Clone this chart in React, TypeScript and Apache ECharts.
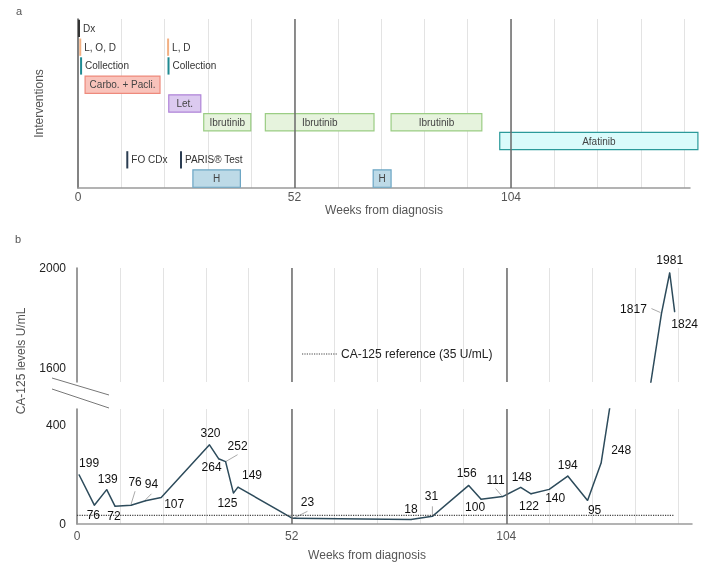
import React, { useEffect, useRef } from 'react';
import * as echarts from 'echarts';

const FONT = '"Liberation Sans", Arial, Helvetica, sans-serif';

// ---------- Panel a: interventions ----------
const rowCount = 9;
const intervalLabels = ['Carbo. + Pacli.', 'Let.', 'Ibrutinib', 'Ibrutinib', 'Ibrutinib', 'Afatinib', 'H', 'H'];
const intervalStarts = [1.7, 21.8, 30.2, 45, 75.2, 101.3, 27.6, 70.9];
const intervalEnds = [19.7, 29.5, 41.5, 71.1, 97, 148.9, 39, 75.2];
const intervalRows = [3, 4, 5, 5, 5, 6, 8, 8];
const intervalKinds = ['chemo', 'let', 'ibr', 'ibr', 'ibr', 'afa', 'h', 'h'];

const markerLabels = ['Dx', 'L, O, D', 'Collection', 'L, D', 'Collection', 'FO CDx', 'PARIS® Test'];
const markerWeeks = [0, 0.3, 0.5, 21.4, 21.5, 11.6, 24.5];
const markerRows = [0, 1, 2, 1, 2, 7, 7];
const markerKinds = ['dx', 'lod', 'coll', 'lod', 'coll', 'test', 'test'];

// ---------- Panel b: CA-125 ----------
const ca125Weeks = [0.5, 4.2, 7.2, 9.2, 13.1, 16.6, 20.4, 32.1, 34.3, 36, 37.9, 39, 52.2, 80.9, 86.1, 94.9, 97.9, 103.1, 107.5, 110, 114.4, 118.9, 123.7, 127, 141.6, 143.6, 144.8];
const ca125Values = [199, 76, 139, 72, 76, 94, 107, 320, 264, 252, 125, 149, 23, 18, 31, 156, 100, 111, 148, 122, 140, 194, 95, 248, 1817, 1981, 1824];
const referenceValue = 35;
const referenceWeeks = [0, 144.5];
const referenceLabel = 'CA-125 reference (35 U/mL)';
const weekTickLabels = [0, 52, 104];
const yTickLabelsLower = [0, 400];
const yTickLabelsUpper = [1600, 2000];
const milestoneWeeks = [52, 104];

// ---------- styles ----------
const boxStyles: Record<string, { fill: string; stroke: string }> = {
  chemo: { fill: '#f9c3bb', stroke: '#ee8a7c' },
  let: { fill: '#dccaf0', stroke: '#b084d8' },
  ibr: { fill: '#e6f3dd', stroke: '#9bcd84' },
  afa: { fill: '#dafbfb', stroke: '#2b9a9a' },
  h: { fill: '#bddae7', stroke: '#6aa5c4' },
};
const markerColors: Record<string, string> = { dx: '#333333', lod: '#f2b083', coll: '#1f8a92', test: '#2b3d52' };
const labelOffsets: number[][] = [
  [10, -12], [-1, 10], [1, -11], [-1, 10], [4, -23], [6, -17], [13, 6], [1, -12], [-7, 8], [12, -16],
  [-6, 10], [14, -12], [15, -16], [0, -11], [-1, -20], [-2, -12], [-6, 8], [-7, -17], [1, -10], [-2, 12],
  [6, 9], [0, -11], [7, 9], [20, -13], [-28, -5], [0, -13], [10, 12],
];
const leaderSpecs = [
  { i: 4, a: [0, -1], b: [4, -14] },
  { i: 5, a: [0, -1], b: [6, -7] },
  { i: 9, a: [0, 0], b: [12, -7] },
  { i: 12, a: [1, 0], b: [15, -7] },
  { i: 14, a: [0, -1], b: [0, -10] },
  { i: 17, a: [-1, -1], b: [-7, -8] },
  { i: 24, a: [-1, -1], b: [-10, -5] },
];
const LINE_COLOR = '#2d4b5b';
const UPPER_MIN = 1542;
const UPPER_MAX = 2000;
const LOWER_MAX = 465;

const near = (v: number, list: number[]) => list.some((t) => Math.abs(t - v) < 0.01);

function weekAxis(gridIndex: number, max: number, showLabels: boolean, extra: any = {}) {
  return {
    type: 'value',
    gridIndex,
    min: 0,
    max,
    interval: 10.4,
    axisTick: { show: false },
    axisLine: { show: showLabels, lineStyle: { color: '#9a9a9a', width: 1.5 } },
    axisLabel: {
      show: showLabels,
      color: '#555',
      fontFamily: FONT,
      fontSize: 12,
      formatter: (v: number) => (near(v, weekTickLabels) ? String(Math.round(v)) : ''),
    },
    splitLine: { show: true, showMinLine: false, showMaxLine: false, lineStyle: { color: '#e3e3e3', width: 1 } },
    ...extra,
  };
}

const milestoneMarkLine = {
  silent: true,
  symbol: ['none', 'none'],
  label: { show: false },
  lineStyle: { color: '#6a6a6a', width: 1.5, type: 'solid' },
  data: milestoneWeeks.map((w) => ({ xAxis: w })),
};

function buildOption(): any {
  const intervalData = intervalStarts.map((s, i) => [s, intervalEnds[i], intervalRows[i], i]);
  const markerData = markerWeeks.map((w, i) => [w, markerRows[i], i]);
  const pts = ca125Weeks.map((w, i) => [w, ca125Values[i]]);

  const seriesData = (inRange: (v: number) => boolean) =>
    pts.map((p, i) => ({
      value: p,
      label: {
        show: inRange(p[1]),
        position: 'inside',
        offset: labelOffsets[i],
        color: '#111',
        fontFamily: FONT,
        fontSize: 12,
        formatter: String(ca125Values[i]),
      },
    }));

  return {
    animation: false,
    grid: [
      { left: 78, right: 18, top: 19, bottom: 386 },
      { left: 77, right: 16, top: 268, bottom: 192 },
      { left: 77, right: 16, top: 409, bottom: 50 },
    ],
    xAxis: [
      weekAxis(0, 147, true, {
        name: 'Weeks from diagnosis',
        nameLocation: 'middle',
        nameGap: 12,
        nameTextStyle: { color: '#555', fontFamily: FONT, fontSize: 12 },
        axisLabel: {
          color: '#555', fontFamily: FONT, fontSize: 12, margin: 3,
          formatter: (v: number) => (near(v, weekTickLabels) ? String(Math.round(v)) : ''),
        },
      }),
      weekAxis(1, 149, false),
      weekAxis(2, 149, true, {
        name: 'Weeks from diagnosis',
        nameLocation: 'middle',
        nameGap: 25,
        nameTextStyle: { color: '#555', fontFamily: FONT, fontSize: 12, padding: [0, 35, 0, 0] },
        axisLabel: {
          color: '#555', fontFamily: FONT, fontSize: 12, margin: 6,
          formatter: (v: number) => (near(v, weekTickLabels) ? String(Math.round(v)) : ''),
        },
      }),
    ],
    yAxis: [
      {
        type: 'category',
        gridIndex: 0,
        inverse: true,
        data: Array.from({ length: rowCount }, (_, i) => String(i)),
        axisLine: { show: true, lineStyle: { color: '#5a5a5a', width: 1.5 } },
        axisTick: { show: false },
        axisLabel: { show: false },
        splitLine: { show: false },
        name: 'Interventions',
        nameLocation: 'middle',
        nameGap: 33,
        nameTextStyle: { color: '#555', fontFamily: FONT, fontSize: 12 },
      },
      {
        type: 'value',
        gridIndex: 1,
        min: UPPER_MIN,
        max: UPPER_MAX,
        axisLine: { show: true, lineStyle: { color: '#7a7a7a', width: 1.5 } },
        axisTick: { show: false },
        splitLine: { show: false },
        axisLabel: {
          color: '#222', fontFamily: FONT, fontSize: 12, margin: 11,
          formatter: (v: number) => (near(v, yTickLabelsUpper) ? String(v) : ''),
        },
      },
      {
        type: 'value',
        gridIndex: 2,
        min: 0,
        max: LOWER_MAX,
        axisLine: { show: true, lineStyle: { color: '#7a7a7a', width: 1.5 } },
        axisTick: { show: false },
        splitLine: { show: false },
        axisLabel: {
          color: '#222', fontFamily: FONT, fontSize: 12, margin: 11,
          formatter: (v: number) => (near(v, yTickLabelsLower) ? String(v) : ''),
        },
      },
    ],
    series: [
      {
        type: 'line',
        xAxisIndex: 0,
        yAxisIndex: 0,
        data: [],
        silent: true,
        markLine: milestoneMarkLine,
      },
      {
        type: 'custom',
        xAxisIndex: 0,
        yAxisIndex: 0,
        data: intervalData,
        clip: false,
        silent: true,
        renderItem: (params: any, api: any) => {
          const idx = params.dataIndex;
          const s = api.coord([api.value(0), api.value(2)]);
          const e = api.coord([api.value(1), api.value(2)]);
          const h = api.size([0, 1])[1] * 0.92;
          const st = boxStyles[intervalKinds[idx]];
          return {
            type: 'group',
            children: [
              {
                type: 'rect',
                shape: { x: s[0], y: s[1] - h / 2, width: e[0] - s[0], height: h },
                style: { fill: st.fill, stroke: st.stroke, lineWidth: 1.2 },
              },
              {
                type: 'text',
                style: {
                  text: intervalLabels[idx],
                  x: (s[0] + e[0]) / 2,
                  y: s[1],
                  align: 'center',
                  verticalAlign: 'middle',
                  fill: '#444',
                  fontFamily: FONT,
                  fontSize: 10,
                },
              },
            ],
          };
        },
      },
      {
        type: 'custom',
        xAxisIndex: 0,
        yAxisIndex: 0,
        data: markerData,
        clip: false,
        silent: true,
        renderItem: (params: any, api: any) => {
          const idx = params.dataIndex;
          const c = api.coord([api.value(0), api.value(1)]);
          const h = api.size([0, 1])[1] * 0.92;
          return {
            type: 'group',
            children: [
              {
                type: 'line',
                shape: { x1: c[0] + 1, y1: c[1] - h / 2, x2: c[0] + 1, y2: c[1] + h / 2 },
                style: { stroke: markerColors[markerKinds[idx]], lineWidth: 2 },
              },
              {
                type: 'text',
                style: {
                  text: markerLabels[idx],
                  x: c[0] + 5,
                  y: c[1],
                  align: 'left',
                  verticalAlign: 'middle',
                  fill: '#333',
                  fontFamily: FONT,
                  fontSize: 10,
                },
              },
            ],
          };
        },
      },
      {
        type: 'line',
        xAxisIndex: 1,
        yAxisIndex: 1,
        data: seriesData((v) => v >= UPPER_MIN),
        symbol: 'circle',
        symbolSize: 1,
        itemStyle: { color: LINE_COLOR },
        lineStyle: { color: LINE_COLOR, width: 1.5 },
        clip: true,
        silent: true,
        markLine: milestoneMarkLine,
      },
      {
        type: 'line',
        xAxisIndex: 2,
        yAxisIndex: 2,
        data: seriesData((v) => v <= LOWER_MAX),
        symbol: 'circle',
        symbolSize: 1,
        itemStyle: { color: LINE_COLOR },
        lineStyle: { color: LINE_COLOR, width: 1.5 },
        clip: true,
        silent: true,
        markLine: milestoneMarkLine,
      },
      {
        type: 'line',
        xAxisIndex: 2,
        yAxisIndex: 2,
        data: referenceWeeks.map((w) => [w, referenceValue]),
        symbol: 'none',
        lineStyle: { color: '#444', width: 1.2, type: 'dotted' },
        silent: true,
      },
    ],
  };
}

export default function App() {
  const ref = useRef<HTMLDivElement>(null);
  useEffect(() => {
    if (!ref.current) return;
    const chart = echarts.init(ref.current, null, { renderer: 'svg' });
    chart.setOption(buildOption());

    const leaders = leaderSpecs.map((sp) => {
      const v = ca125Values[sp.i];
      const ax = v >= UPPER_MIN ? 1 : 2;
      const p = chart.convertToPixel({ xAxisIndex: ax, yAxisIndex: ax }, [ca125Weeks[sp.i], v]) as number[];
      return {
        type: 'line',
        silent: true,
        shape: { x1: p[0] + sp.a[0], y1: p[1] + sp.a[1], x2: p[0] + sp.b[0], y2: p[1] + sp.b[1] },
        style: { stroke: '#aaaaaa', lineWidth: 1 },
      };
    });

    const statics: any[] = [
      { type: 'text', left: 16, top: 5, style: { text: 'a', fill: '#555', fontFamily: FONT, fontSize: 11 } },
      { type: 'text', left: 15, top: 233, style: { text: 'b', fill: '#555', fontFamily: FONT, fontSize: 11 } },
      {
        type: 'text',
        x: 21,
        y: 361,
        rotation: Math.PI / 2,
        style: { text: 'CA-125 levels U/mL', fill: '#555', fontFamily: FONT, fontSize: 12, align: 'center', verticalAlign: 'middle' },
      },
      { type: 'line', shape: { x1: 52, y1: 378, x2: 109, y2: 395 }, style: { stroke: '#777', lineWidth: 1 } },
      { type: 'line', shape: { x1: 52, y1: 389, x2: 109, y2: 408 }, style: { stroke: '#777', lineWidth: 1 } },
      { type: 'line', shape: { x1: 302, y1: 354, x2: 337, y2: 354 }, style: { stroke: '#444', lineWidth: 1.2, lineDash: [1.2, 1.2] } },
      {
        type: 'text',
        x: 341,
        y: 354,
        style: { text: referenceLabel, fill: '#222', fontFamily: FONT, fontSize: 12, align: 'left', verticalAlign: 'middle' },
      },
    ];
    chart.setOption({ graphic: [...statics, ...leaders] });
    return () => chart.dispose();
  }, []);
  return <div ref={ref} style={{ position: 'fixed', left: 0, top: 0, width: 708, height: 574 }} />;
}
